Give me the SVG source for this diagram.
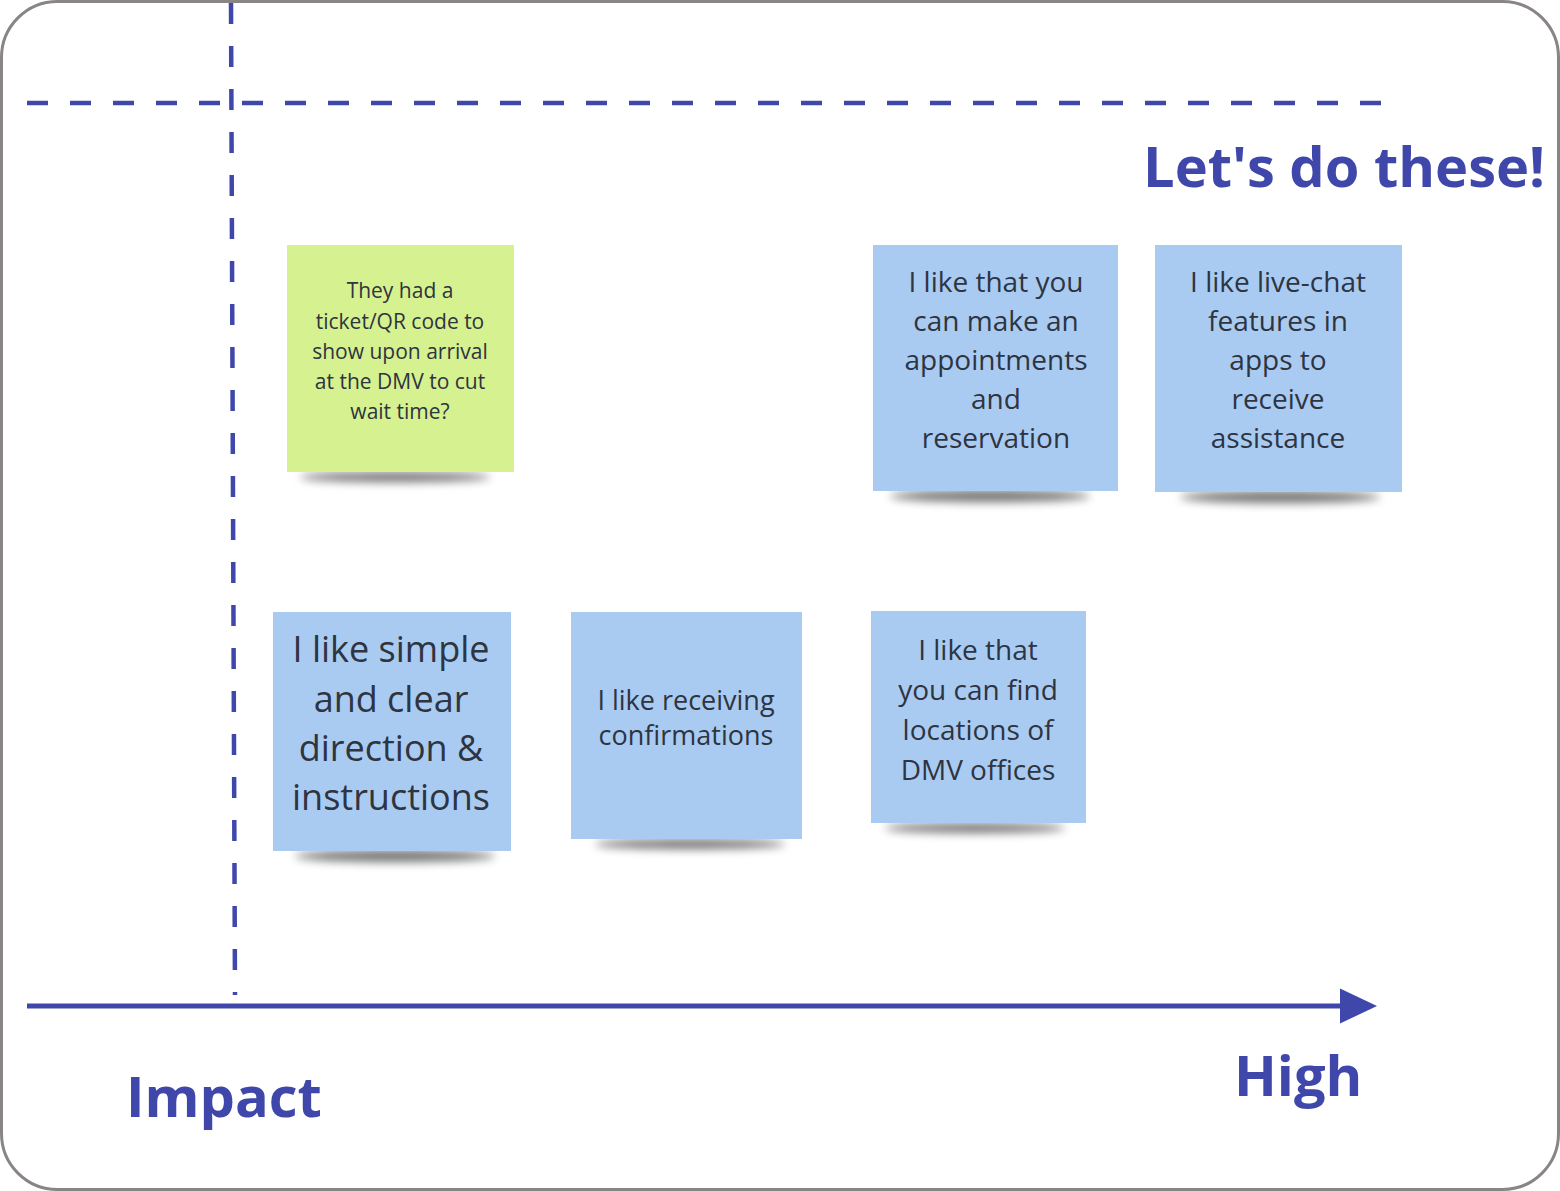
<svg xmlns="http://www.w3.org/2000/svg" width="1560" height="1191" viewBox="0 0 1560 1191">
<defs>
<style>
.frame{fill:#fff;stroke:#8a8585;stroke-width:3}
.dash{stroke:#3f48aa;stroke-width:4.5;stroke-dasharray:21 22;fill:none}
.axis{stroke:#3f48aa;stroke-width:5;fill:none}
.title{font-family:"Open Sans","Liberation Sans",sans-serif;font-weight:bold;fill:#3f48aa}
.note-blue{fill:#a9cbf2}
.note-green{fill:#d6f18f}
.nt{font-family:"Open Sans","Liberation Sans",sans-serif;fill:#2e3440;text-anchor:middle}
.shadow{fill:#000;opacity:0.55;filter:url(#blur)}
</style>
<filter id="blur" x="-20%" y="-200%" width="140%" height="500%"><feGaussianBlur stdDeviation="5"/></filter>
<marker id="arrow" markerWidth="8" markerHeight="8" refX="0" refY="3.5" orient="auto" markerUnits="strokeWidth" viewBox="0 0 8 7"><path d="M0,0 L7.4,3.5 L0,7 Z" fill="#3f48aa"/></marker>
</defs>
<rect class="frame" x="1.5" y="1.5" width="1557" height="1188" rx="56"/>
<g id="connectors">
<line class="dash" x1="231" y1="3" x2="235" y2="995"/>
<line class="dash" x1="27" y1="103" x2="1398" y2="103" stroke-dasharray="4 22 21 22 21 22 21 22 21 22 21 22 21 22 21 22 21 22 21 22 21 22 21 22 21 22 21 22 21 22 21 22 21 22 21 22 21 22 21 22 21 22 21 22 21 22 21 22 21 22 21 22 21 22 21 22 21 22 21 22 21 22 21 22 21 22 21 22 21 22 21 22 21 22"/>
<line class="axis" x1="27" y1="1006" x2="1340" y2="1006" marker-end="url(#arrow)"/>
</g>
<g id="label-lets"><text class="title" x="1143" y="187" font-size="56">Let's do these!</text></g>
<g id="label-impact"><text class="title" x="126" y="1117" font-size="56">Impact</text></g>
<g id="label-high"><text class="title" x="1234" y="1096" font-size="56">High</text></g>
<g id="note-qr">
<ellipse class="shadow" cx="395" cy="477" rx="95" ry="5"/>
<rect class="note-green" x="287" y="245" width="227" height="227"/>
<text class="nt" font-size="21"><tspan x="400" y="298">They had a</tspan><tspan x="400" y="329">ticket/QR code to</tspan><tspan x="400" y="359">show upon arrival</tspan><tspan x="400" y="389">at the DMV to cut</tspan><tspan x="400" y="419">wait time?</tspan></text>
</g>
<g id="note-appointments">
<ellipse class="shadow" cx="990" cy="496" rx="100" ry="6"/>
<rect class="note-blue" x="873" y="245" width="245" height="246"/>
<text class="nt" font-size="28"><tspan x="996" y="292">I like that you</tspan><tspan x="996" y="331">can make an</tspan><tspan x="996" y="370">appointments</tspan><tspan x="996" y="409">and</tspan><tspan x="996" y="448">reservation</tspan></text>
</g>
<g id="note-livechat">
<ellipse class="shadow" cx="1280" cy="497" rx="100" ry="6"/>
<rect class="note-blue" x="1155" y="245" width="247" height="247"/>
<text class="nt" font-size="28"><tspan x="1278" y="292">I like live-chat</tspan><tspan x="1278" y="331">features in</tspan><tspan x="1278" y="370">apps to</tspan><tspan x="1278" y="409">receive</tspan><tspan x="1278" y="448">assistance</tspan></text>
</g>
<g id="note-simple">
<ellipse class="shadow" cx="395" cy="856" rx="100" ry="6"/>
<rect class="note-blue" x="273" y="612" width="238" height="239"/>
<text class="nt" font-size="36"><tspan x="391" y="662">I like simple</tspan><tspan x="391" y="712">and clear</tspan><tspan x="391" y="761">direction &amp;</tspan><tspan x="391" y="810">instructions</tspan></text>
</g>
<g id="note-confirm">
<ellipse class="shadow" cx="690" cy="844" rx="95" ry="5"/>
<rect class="note-blue" x="571" y="612" width="231" height="227"/>
<text class="nt" font-size="27"><tspan x="686" y="710">I like receiving</tspan><tspan x="686" y="745">confirmations</tspan></text>
</g>
<g id="note-locations">
<ellipse class="shadow" cx="975" cy="828" rx="90" ry="5"/>
<rect class="note-blue" x="871" y="611" width="215" height="212"/>
<text class="nt" font-size="28"><tspan x="978" y="660">I like that</tspan><tspan x="978" y="700">you can find</tspan><tspan x="978" y="740">locations of</tspan><tspan x="978" y="780">DMV offices</tspan></text>
</g>
</svg>
